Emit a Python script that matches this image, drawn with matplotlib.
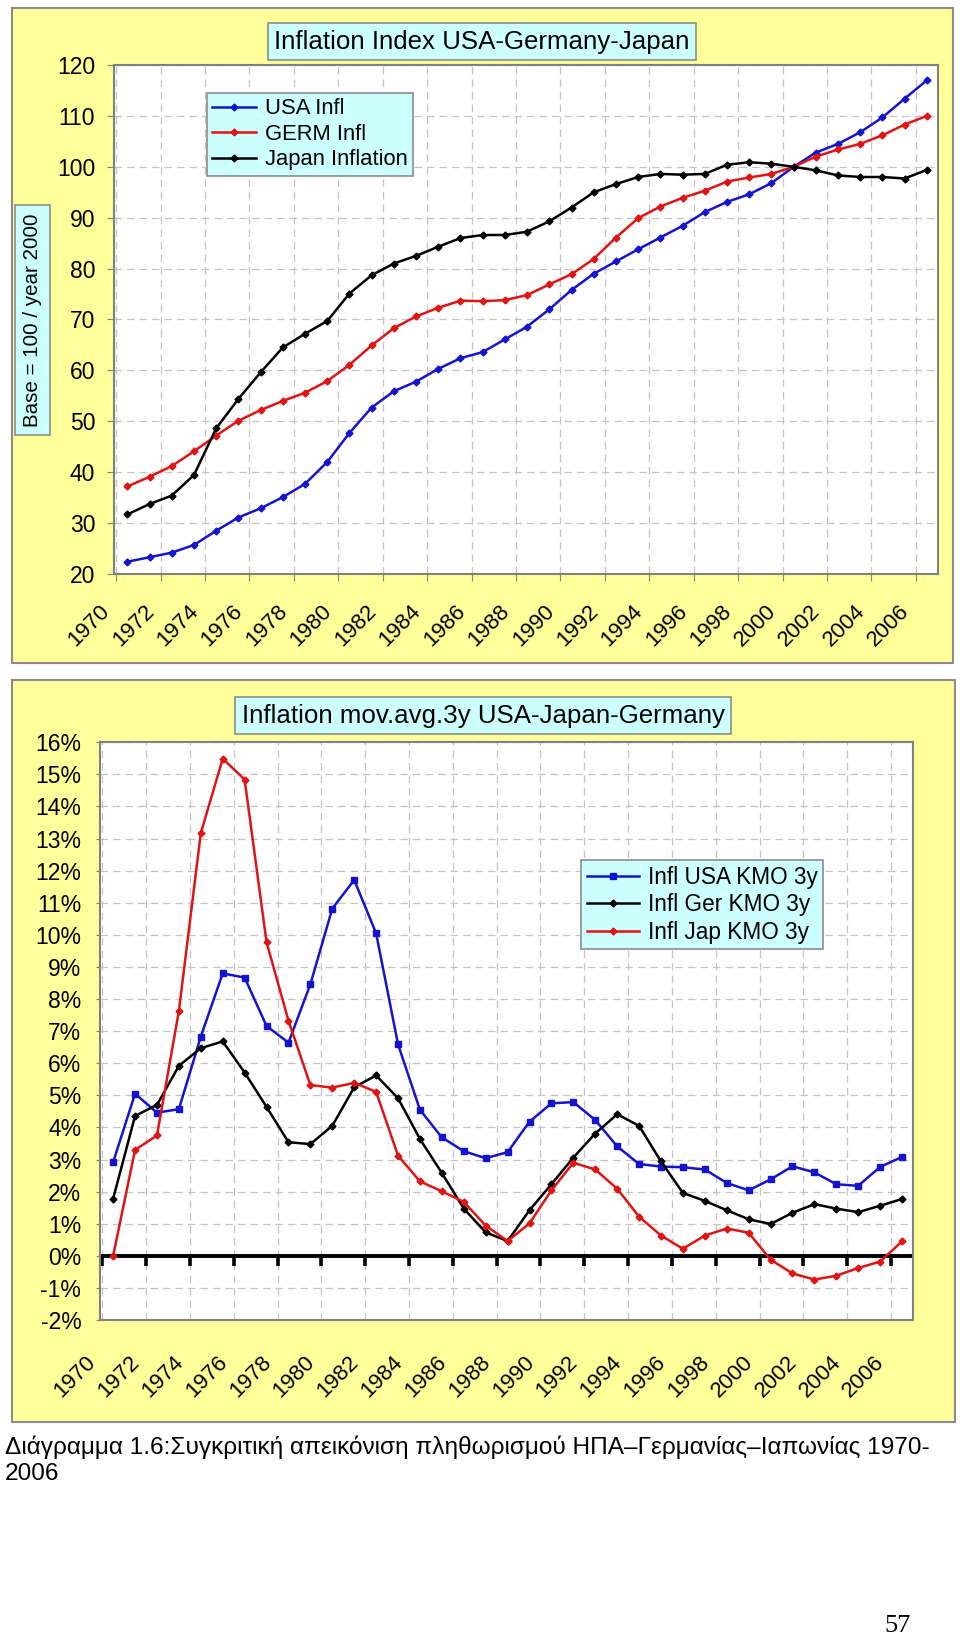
"""
Inflation index and 3y moving average, USA / Germany / Japan, 1970-2006.
Two Excel-style chart panels stacked on one page with a Greek caption.
"""

import matplotlib
matplotlib.use("Agg")

import matplotlib.pyplot as plt
import numpy as np
from matplotlib import font_manager
from matplotlib.patches import Rectangle
from matplotlib.ticker import FuncFormatter

plt.rcParams.update({
    "font.family":     "Liberation Sans",
    "font.size":       14,
    "axes.linewidth":  1.5,
    "axes.edgecolor":  "#808080",
    "axes.facecolor":  "white",
    "figure.facecolor": "white",
})

# ─── Data ─────────────────────────────────────────────────────────────────────

YEARS = list(range(1970, 2007))
LABEL_YEARS = list(range(1970, 2007, 2))

# Index, base 100 = year 2000
USA_INDEX = [22.4, 23.3, 24.2, 25.7, 28.5, 31.1, 32.9, 35.1, 37.7, 42.0,
             47.7, 52.7, 55.9, 57.8, 60.3, 62.4, 63.6, 66.1, 68.6, 72.0,
             75.8, 79.0, 81.4, 83.8, 86.1, 88.4, 91.1, 93.1, 94.6, 96.8,
             100.0, 102.8, 104.5, 106.8, 109.7, 113.4, 117.0]
GER_INDEX = [37.2, 39.1, 41.2, 44.1, 47.2, 50.1, 52.2, 54.0, 55.6, 57.9,
             61.1, 64.9, 68.3, 70.6, 72.3, 73.7, 73.6, 73.8, 74.8, 76.9,
             78.9, 81.9, 86.1, 89.9, 92.2, 93.9, 95.3, 97.1, 97.9, 98.6,
             100.0, 102.0, 103.4, 104.5, 106.2, 108.3, 110.0]
JAP_INDEX = [31.7, 33.75, 35.4, 39.45, 48.6, 54.4, 59.6, 64.5, 67.2, 69.7,
             75.1, 78.7, 81.0, 82.5, 84.3, 86.0, 86.6, 86.6, 87.25, 89.3,
             92.0, 95.0, 96.6, 98.0, 98.6, 98.45, 98.6, 100.4, 100.9, 100.6,
             100.0, 99.3, 98.3, 98.0, 98.0, 97.7, 99.4]

# Inflation, 3-year moving average (%)
USA_KMO = [2.92, 5.05, 4.46, 4.57, 6.83, 8.80, 8.67, 7.16, 6.64, 8.46,
           10.82, 11.71, 10.05, 6.59, 4.55, 3.69, 3.26, 3.04, 3.23, 4.18,
           4.75, 4.79, 4.23, 3.41, 2.86, 2.78, 2.76, 2.69, 2.27, 2.04,
           2.38, 2.79, 2.60, 2.23, 2.18, 2.77, 3.08]
GER_KMO = [1.78, 4.36, 4.70, 5.92, 6.47, 6.68, 5.71, 4.64, 3.54, 3.48,
           4.05, 5.25, 5.62, 4.91, 3.64, 2.58, 1.47, 0.73, 0.46, 1.42,
           2.23, 3.06, 3.81, 4.41, 4.05, 2.94, 1.96, 1.71, 1.42, 1.14,
           0.99, 1.34, 1.61, 1.47, 1.36, 1.56, 1.77]
JAP_KMO = [0.0, 3.30, 3.75, 7.63, 13.17, 15.49, 14.84, 9.77, 7.33, 5.32,
           5.24, 5.39, 5.11, 3.12, 2.32, 2.01, 1.68, 0.94, 0.46, 1.01,
           2.04, 2.90, 2.69, 2.09, 1.22, 0.63, 0.22, 0.63, 0.85, 0.72,
           -0.12, -0.55, -0.74, -0.62, -0.38, -0.18, 0.45]

TITLE_TOP = "Inflation Index USA-Germany-Japan"
TITLE_BOTTOM = "Inflation mov.avg.3y USA-Japan-Germany"
YLABEL_TOP = "Base = 100 / year 2000"
CAPTION_1 = "Διάγραμμα 1.6:Συγκριτική απεικόνιση πληθωρισμού ΗΠΑ–Γερμανίας–Ιαπωνίας 1970-"
CAPTION_2 = "2006"
PAGE_NO = "57"

# ─── Style ────────────────────────────────────────────────────────────────────

W_PX, H_PX = 960, 1638
BLUE = "#1414CC"
RED = "#E01414"
BLACK = "#000000"
PANEL_YELLOW = "#FFFF99"
BOX_CYAN = "#CCFFFF"
FRAME_GREY = "#8C8C8C"
GRID = "#C4C4C4"
GRID_LS = (0, (6, 4))
TICK_FS = 16.5
YEAR_FS = 16
LABEL_SHIFT = 0.6      # Excel puts the rotated year labels left of the point
ZERO_TICK = 0.32       # length of the tick marks hanging below the 0 % axis

_names = {f.name for f in font_manager.fontManager.ttflist}
CAPTION_FONT = "Liberation Sans Narrow" if "Liberation Sans Narrow" in _names else "Liberation Sans"


def fx(px):
    return px / W_PX


def fy(py):
    return 1 - py / H_PX


def _panel(fig, x0, y0, x1, y1):
    fig.add_artist(Rectangle((fx(x0), fy(y1)), (x1 - x0) / W_PX, (y1 - y0) / H_PX,
                             transform=fig.transFigure, fc=PANEL_YELLOW,
                             ec=FRAME_GREY, lw=1.5, zorder=-1))


def _boxed_text(fig, x, y, text, size, rotation=0, pad=0.25):
    fig.text(fx(x), fy(y), text, ha="center", va="center", fontsize=size,
             rotation=rotation,
             bbox=dict(boxstyle=f"square,pad={pad}", fc=BOX_CYAN, ec=FRAME_GREY, lw=1.2))


def _year_axis(ax, pad):
    """Category-style year axis: ticks between pairs of years, rotated labels."""
    ax.set_xlim(YEARS[0] - 0.5, YEARS[-1] + 0.5)
    ax.set_xticks(np.arange(YEARS[0] - 0.5, YEARS[-1], 2))
    ax.grid(True, which="major", color=GRID, ls=GRID_LS, lw=0.9)
    ax.set_xticks([y - LABEL_SHIFT for y in LABEL_YEARS],
                  labels=[str(y) for y in LABEL_YEARS], minor=True)
    ax.tick_params(axis="x", which="minor", length=0, pad=pad, labelsize=YEAR_FS)
    for lbl in ax.get_xticklabels(minor=True):
        lbl.set_rotation(45)
        lbl.set_ha("right")
        lbl.set_va("top")


def _legend(ax, x, y, size, handlelength=2.0):
    leg = ax.legend(loc="upper left", bbox_to_anchor=(fx(x), fy(y)),
                    bbox_transform=ax.figure.transFigure, fontsize=size,
                    fancybox=False, framealpha=1, borderaxespad=0,
                    handlelength=handlelength, handletextpad=0.4, borderpad=0.25,
                    labelspacing=0.2)
    leg.get_frame().set_facecolor(BOX_CYAN)
    leg.get_frame().set_edgecolor(FRAME_GREY)
    leg.get_frame().set_linewidth(1.2)


# ─── Top chart: index ─────────────────────────────────────────────────────────

def _plot_index(fig):
    _panel(fig, 12, 8, 953, 663)
    ax = fig.add_axes([fx(114), fy(574), (938 - 114) / W_PX, (574 - 65) / H_PX])

    for vals, color, label in [(USA_INDEX, BLUE, "USA Infl"),
                               (GER_INDEX, RED, "GERM Infl"),
                               (JAP_INDEX, BLACK, "Japan Inflation")]:
        ax.plot(YEARS, vals, color=color, lw=1.8, marker="D", ms=3.5, label=label)

    ax.set_ylim(20, 120)
    ax.set_yticks(range(20, 121, 10))
    ax.tick_params(axis="y", length=5, color="#808080", pad=8.5, labelsize=TICK_FS)
    ax.tick_params(axis="x", which="major", length=5, color="#808080", labelbottom=False)
    _year_axis(ax, pad=19)

    _legend(ax, 207, 93, 15.8)
    _boxed_text(fig, 482, 41.5, TITLE_TOP, 18.6)
    _boxed_text(fig, 32.5, 320, YLABEL_TOP, 14.8, rotation=90, pad=0.4)


# ─── Bottom chart: 3y moving average ──────────────────────────────────────────

def _plot_kmo(fig):
    _panel(fig, 12, 680, 955, 1422)
    ax = fig.add_axes([fx(100), fy(1320), (913 - 100) / W_PX, (1320 - 742.3) / H_PX])

    ax.plot(YEARS, USA_KMO, color=BLUE, lw=1.8, marker="s", ms=4.5, label="Infl USA KMO 3y")
    ax.plot(YEARS, GER_KMO, color=BLACK, lw=1.8, marker="D", ms=3.5, label="Infl Ger KMO 3y")
    ax.plot(YEARS, JAP_KMO, color=RED, lw=1.8, marker="D", ms=3.5, label="Infl Jap KMO 3y")

    ax.set_ylim(-2, 16)
    ax.set_yticks(range(-2, 17))
    ax.yaxis.set_major_formatter(FuncFormatter(lambda v, _: f"{v:.0f}%"))
    ax.tick_params(axis="y", length=3, color="#808080", pad=10.5, labelsize=TICK_FS)
    ax.tick_params(axis="x", which="major", length=0, labelbottom=False)
    _year_axis(ax, pad=23)

    # category axis crosses the value axis at 0 %, tick marks hang below it;
    # drawn above the grid (zorder 1.5) but under the series
    ax.axhline(0, color=BLACK, lw=2.8, zorder=1.8)
    ax.vlines(ax.get_xticks(), -ZERO_TICK, 0, color=BLACK, lw=2.6, zorder=1.8)

    _legend(ax, 581, 860, 16.3, handlelength=2.3)
    _boxed_text(fig, 483, 715.5, TITLE_BOTTOM, 18.6)


# ─── Main ─────────────────────────────────────────────────────────────────────

def main():
    fig = plt.figure(figsize=(W_PX / 100, H_PX / 100), dpi=100)
    _plot_index(fig)
    _plot_kmo(fig)

    fig.text(fx(5), fy(1447), CAPTION_1, va="center", ha="left",
             fontsize=17.6, family=CAPTION_FONT)
    fig.text(fx(5), fy(1474), CAPTION_2, va="center", ha="left",
             fontsize=17.6, family=CAPTION_FONT)
    fig.text(fx(898), fy(1626), PAGE_NO, va="center", ha="center",
             fontsize=19, family="Liberation Serif")

    fig.savefig("out.png", dpi=100)
    plt.close(fig)


if __name__ == "__main__":
    main()
